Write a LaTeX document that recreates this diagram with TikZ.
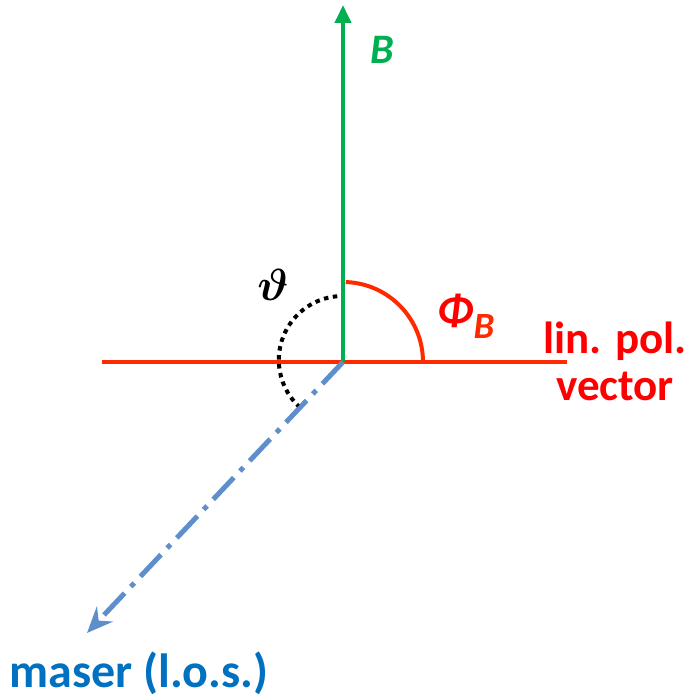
\documentclass[tikz,border=0pt]{standalone}
\usepackage{fontspec}
\usepackage{amsmath,bm}
\setmainfont{Carlito}
\usetikzlibrary{arrows.meta}
\definecolor{fieldgreen}{HTML}{00B050}
\definecolor{polred}{HTML}{FF2A00}
\definecolor{textred}{HTML}{FF0000}
\definecolor{losblue}{HTML}{5F8FCB}
\definecolor{textblue}{HTML}{0070C0}
\begin{document}
\begin{tikzpicture}[x=1pt, y=1pt, every node/.style={font=\fontsize{45}{47}\selectfont\bfseries}]
	\useasboundingbox (-343,-337) rectangle (349,362);
	\coordinate (O) at (0,0);
	\coordinate (Btip) at (0,357);
	\coordinate (polL) at (-241,0);
	\coordinate (polR) at (224,0);
	\coordinate (los) at (-256,-271);
	% polarisation vector and field
	\draw[polred, line width=4pt] (polL) -- (polR);
	\draw[fieldgreen, line width=4pt, -{Triangle[length=18pt, width=16pt]}] (O) -- (Btip);
	\draw[losblue, line width=5pt, dash pattern=on 30pt off 9pt on 5pt off 9pt, -{Stealth[length=26pt, width=22pt, inset=9pt]}] (O) -- (los);
	% angles
	\draw[polred, line width=4pt] (80,0) arc (0:88:80);
	\draw[black, line width=4pt, dash pattern=on 4.5pt off 4.5pt] (95:66) arc (95:226:64);
	% labels
	\node[fieldgreen, font=\fontsize{42}{47}\selectfont\bfseries\itshape] (Blab) at (39,312) {B};
	\node[font=\normalsize] (thlab) at (-70,77) {\scalebox{4.5}{$\bm{\vartheta}$}};
	\node[textred, font=\fontsize{45}{47}\selectfont\bfseries\itshape] (philab) at (123,46) {Φ\raisebox{-0.28em}{\fontsize{37}{40}\selectfont\color{polred}B}};
	\node[textred, align=center] (pollab) at (272,1) {lin. pol.\\vector};
	\node[textblue, inner sep=1pt, font=\fontsize{48}{50}\selectfont\bfseries] (loslab) at (-204,-311) {maser (l.o.s.)};
\end{tikzpicture}
\end{document}
